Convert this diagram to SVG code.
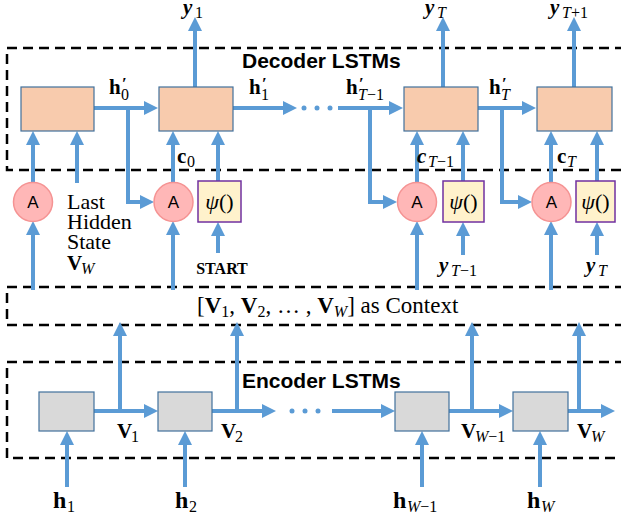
<svg xmlns="http://www.w3.org/2000/svg" width="621" height="525" viewBox="0 0 621 525">
<defs>
<marker id="ah" markerUnits="userSpaceOnUse" markerWidth="14" markerHeight="14" refX="2" refY="7" orient="auto">
<path d="M0,0 L14,7 L0,14 z" fill="#5B9BD5"/>
</marker>
<style>
.dash{fill:none;stroke:#000;stroke-width:2.5;stroke-dasharray:10,6}
.c{fill:none;stroke:#5B9BD5;stroke-width:4}
.a{fill:none;stroke:#5B9BD5;stroke-width:4;marker-end:url(#ah)}
.dec{fill:#F8CBAD;stroke:#41719C;stroke-width:1.2}
.enc{fill:#D9D9D9;stroke:#41719C;stroke-width:1.2}
.att{fill:#FFB7B7;stroke:#F59393;stroke-width:1.5}
.psi{fill:#FFF2CC;stroke:#7030A0;stroke-width:1.5}
.dot{fill:#5B9BD5}
.title{font-family:"Liberation Sans",Arial,sans-serif;font-weight:bold;font-size:21px;fill:#000}
.at{font-family:"Liberation Sans",Arial,sans-serif;font-size:17px;fill:#000;text-anchor:middle}
.m{font-family:"Liberation Serif","Times New Roman",serif;font-weight:bold;font-size:21px;fill:#000}
.mi{font-family:"Liberation Serif","Times New Roman",serif;font-weight:bold;font-style:italic;font-size:21px;fill:#000}
.sb{font-family:"Liberation Serif","Times New Roman",serif;font-weight:normal;font-style:italic;font-size:16px}
.sn{font-family:"Liberation Serif","Times New Roman",serif;font-weight:normal;font-style:normal;font-size:16px}
.pr{font-family:"Liberation Serif","Times New Roman",serif;font-weight:bold;font-size:17px}
.hb{font-family:"Liberation Serif","Times New Roman",serif;font-weight:bold;font-size:24px;fill:#000}
.t{font-family:"Liberation Serif","Times New Roman",serif;font-size:22px;fill:#000}
.ct{font-family:"Liberation Serif","Times New Roman",serif;font-size:23px;fill:#000}
.ps{font-family:"Liberation Serif","Times New Roman",serif;font-size:22px;fill:#000;text-anchor:middle}
.st{font-family:"Liberation Serif","Times New Roman",serif;font-weight:bold;font-size:16px;fill:#000;text-anchor:middle}
</style>
</defs>

<g id="frames">
<path class="dash" d="M625,48 H7 V170 H625"/>
<path class="dash" d="M625,287 H7 V325 H625"/>
<path class="dash" d="M625,362 H7 V458 H625"/>
<text class="title" x="242" y="68">Decoder LSTMs</text>
<text class="title" x="242" y="388">Encoder LSTMs</text>
</g>

<g id="connectors">
<line class="a" x1="94" y1="108" x2="146" y2="108"/>
<line class="a" x1="233" y1="108" x2="285" y2="108"/>
<circle class="dot" cx="304" cy="108" r="2.5"/>
<circle class="dot" cx="317" cy="108" r="2.5"/>
<circle class="dot" cx="330" cy="108" r="2.5"/>
<line class="a" x1="338" y1="108" x2="391" y2="108"/>
<line class="a" x1="478" y1="108" x2="524" y2="108"/>
<path class="a" d="M128,108 V202 H142"/>
<path class="a" d="M370,108 V202 H385"/>
<path class="a" d="M502,108 V202 H520"/>
<line class="a" x1="33" y1="183" x2="33" y2="143"/>
<line class="a" x1="77" y1="183" x2="77" y2="143"/>
<line class="a" x1="173" y1="183" x2="173" y2="143"/>
<line class="a" x1="218" y1="181" x2="218" y2="143"/>
<line class="a" x1="417" y1="183" x2="417" y2="143"/>
<line class="a" x1="463" y1="181" x2="463" y2="143"/>
<line class="a" x1="551" y1="183" x2="551" y2="143"/>
<line class="a" x1="597" y1="181" x2="597" y2="143"/>
<line class="a" x1="195" y1="87" x2="195" y2="29"/>
<line class="a" x1="443" y1="87" x2="443" y2="29"/>
<line class="a" x1="574" y1="87" x2="574" y2="29"/>
<line class="a" x1="33" y1="290" x2="33" y2="233"/>
<line class="a" x1="173" y1="290" x2="173" y2="233"/>
<line class="a" x1="417" y1="290" x2="417" y2="233"/>
<line class="a" x1="551" y1="290" x2="551" y2="233"/>
<line class="a" x1="218" y1="253" x2="218" y2="234"/>
<line class="a" x1="463" y1="255" x2="463" y2="234"/>
<line class="a" x1="597" y1="255" x2="597" y2="234"/>
<line class="a" x1="94" y1="411" x2="146" y2="411"/>
<line class="a" x1="212" y1="411" x2="264" y2="411"/>
<circle class="dot" cx="292" cy="411" r="2.5"/>
<circle class="dot" cx="305" cy="411" r="2.5"/>
<circle class="dot" cx="318" cy="411" r="2.5"/>
<line class="a" x1="332" y1="411" x2="383" y2="411"/>
<line class="a" x1="449" y1="411" x2="501" y2="411"/>
<line class="a" x1="568" y1="411" x2="603" y2="411"/>
<line class="a" x1="120" y1="411" x2="120" y2="334"/>
<line class="a" x1="237" y1="411" x2="237" y2="334"/>
<line class="a" x1="472" y1="411" x2="472" y2="334"/>
<line class="a" x1="579" y1="411" x2="579" y2="334"/>
<line class="a" x1="67" y1="487" x2="67" y2="443"/>
<line class="a" x1="185" y1="487" x2="185" y2="443"/>
<line class="a" x1="422" y1="487" x2="422" y2="443"/>
<line class="a" x1="540" y1="487" x2="540" y2="443"/>
</g>

<g id="dec1"><rect class="dec" x="21" y="87" width="73" height="44"/></g>
<g id="dec2"><rect class="dec" x="159" y="87" width="74" height="44"/></g>
<g id="dec3"><rect class="dec" x="404" y="87" width="74" height="44"/></g>
<g id="dec4"><rect class="dec" x="537" y="87" width="75" height="44"/></g>

<g id="att1"><circle class="att" cx="33" cy="202" r="19.5"/><text class="at" x="33" y="208">A</text></g>
<g id="att2"><circle class="att" cx="173.5" cy="202" r="19.5"/><text class="at" x="173.5" y="208">A</text></g>
<g id="att3"><circle class="att" cx="417" cy="202" r="19.5"/><text class="at" x="417" y="208">A</text></g>
<g id="att4"><circle class="att" cx="551.5" cy="202" r="19.5"/><text class="at" x="551.5" y="208">A</text></g>

<g id="psi1"><rect class="psi" x="198" y="181" width="43" height="41"/><text class="ps" x="219.5" y="209"><tspan font-style="italic">ψ</tspan>()</text></g>
<g id="psi2"><rect class="psi" x="443" y="181" width="41" height="41"/><text class="ps" x="463.5" y="209"><tspan font-style="italic">ψ</tspan>()</text></g>
<g id="psi3"><rect class="psi" x="576" y="181" width="39" height="41"/><text class="ps" x="595.5" y="209"><tspan font-style="italic">ψ</tspan>()</text></g>

<g id="enc1"><rect class="enc" x="39" y="392" width="55" height="39"/></g>
<g id="enc2"><rect class="enc" x="158" y="392" width="54" height="39"/></g>
<g id="enc3"><rect class="enc" x="395" y="392" width="54" height="39"/></g>
<g id="enc4"><rect class="enc" x="513" y="392" width="55" height="39"/></g>

<g id="labels">
<text class="mi"><tspan x="183" y="14">y</tspan><tspan class="sn" x="195" y="18">1</tspan></text>
<text class="mi"><tspan x="425" y="14">y</tspan><tspan class="sb" x="437" y="18">T</tspan></text>
<text class="mi"><tspan x="550" y="14">y</tspan><tspan class="sb" x="562" y="18">T</tspan><tspan class="sn">+1</tspan></text>
<text class="m"><tspan x="109" y="94">h</tspan><tspan class="pr" x="122" y="89">′</tspan><tspan class="sn" x="121" y="100">0</tspan></text>
<text class="m"><tspan x="249" y="94">h</tspan><tspan class="pr" x="262" y="89">′</tspan><tspan class="sn" x="261" y="100">1</tspan></text>
<text class="m"><tspan x="346" y="94">h</tspan><tspan class="pr" x="359" y="89">′</tspan><tspan class="sb" x="358" y="100">T</tspan><tspan class="sn">−1</tspan></text>
<text class="m"><tspan x="489" y="94">h</tspan><tspan class="pr" x="502" y="89">′</tspan><tspan class="sb" x="501" y="100">T</tspan></text>
<text class="m"><tspan x="177" y="163">c</tspan><tspan class="sn" x="187" y="167">0</tspan></text>
<text class="mi"><tspan x="417" y="163">c</tspan><tspan class="sb" x="428" y="167">T</tspan><tspan class="sn">−1</tspan></text>
<text class="m"><tspan x="557" y="163">c</tspan><tspan class="sb" x="567" y="167">T</tspan></text>
<text class="t" x="67" y="209">Last</text>
<text class="t" x="67" y="229">Hidden</text>
<text class="t" x="67" y="249">State</text>
<text class="m"><tspan x="67" y="270">V</tspan><tspan class="sb" x="81" y="274">W</tspan></text>
<text class="st" x="222" y="274">START</text>
<text class="mi"><tspan x="439" y="272">y</tspan><tspan class="sb" x="451" y="276">T</tspan><tspan class="sn">−1</tspan></text>
<text class="mi"><tspan x="586" y="272">y</tspan><tspan class="sb" x="598" y="276">T</tspan></text>
<text class="ct" y="313"><tspan x="197">[</tspan><tspan font-weight="bold">V</tspan><tspan class="sn" dy="4">1</tspan><tspan dy="-4">, </tspan><tspan font-weight="bold">V</tspan><tspan class="sn" dy="4">2</tspan><tspan dy="-4">, … , </tspan><tspan font-weight="bold">V</tspan><tspan class="sb" dy="4">W</tspan><tspan dy="-4">]  as Context</tspan></text>
<text class="m"><tspan x="117" y="438">V</tspan><tspan class="sn" x="131" y="442">1</tspan></text>
<text class="m"><tspan x="221" y="438">V</tspan><tspan class="sn" x="235" y="442">2</tspan></text>
<text class="m"><tspan x="461" y="438">V</tspan><tspan class="sb" x="475" y="442">W</tspan><tspan class="sn">−1</tspan></text>
<text class="m"><tspan x="577" y="438">V</tspan><tspan class="sb" x="591" y="442">W</tspan></text>
<text class="hb"><tspan x="53" y="508">h</tspan><tspan class="sn" x="67" y="512">1</tspan></text>
<text class="hb"><tspan x="175" y="508">h</tspan><tspan class="sn" x="189" y="512">2</tspan></text>
<text class="hb"><tspan x="393" y="508">h</tspan><tspan class="sb" x="407" y="512">W</tspan><tspan class="sn">−1</tspan></text>
<text class="hb"><tspan x="527" y="508">h</tspan><tspan class="sb" x="541" y="512">W</tspan></text>
</g>
</svg>
